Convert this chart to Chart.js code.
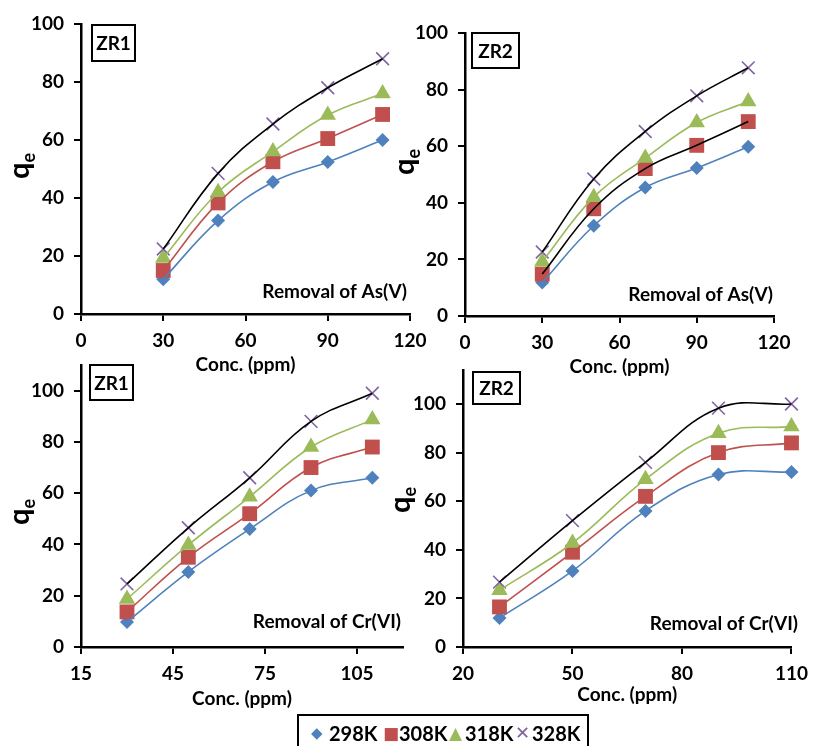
<!DOCTYPE html>
<html>
<head>
<meta charset="utf-8">
<script src="https://cdn.jsdelivr.net/npm/chart.js@4.4.1/dist/chart.umd.min.js"></script>
<style>
  body { margin: 0; background: #fff; }
  #wrap { position: relative; width: 816px; height: 746px; overflow: hidden; background: #fff; }
  #wrap canvas { position: absolute; left: 0; top: 0; }
  #legend {
    position: absolute; left: 297px; top: 714px; width: 292px; height: 44px;
    border: 2px solid #000; box-sizing: border-box;
    font: bold 20px Lato, sans-serif; color: #000;
  }
  #legend span { position: absolute; top: 5px; line-height: 24px; }
  #legend .m { font-family: "DejaVu Sans", sans-serif; }
</style>
</head>
<body>
<div id="wrap">
  <canvas id="asZr1" width="816" height="746"></canvas>
  <canvas id="asZr2" width="816" height="746"></canvas>
  <canvas id="crZr1" width="816" height="746"></canvas>
  <canvas id="crZr2" width="816" height="746"></canvas>
  <div id="legend">
    <span class="m" style="left:12px;color:#4F81BD;font-size:15px;">&#9670;</span><span style="left:30px;">298K</span>
    <span class="m" style="left:84px;color:#C0504D;font-size:17px;">&#9632;</span><span style="left:100px;">308K</span>
    <span class="m" style="left:150px;color:#9BBB59;font-size:17px;">&#9650;</span><span style="left:166px;">318K</span>
    <span class="m" style="left:216px;color:#8064A2;font-size:18px;">&#10005;</span><span style="left:233px;">328K</span>
  </div>
</div>
<script>
// temperatures (legend order)
const temps = ['298K', '308K', '318K', '328K'];

// initial concentration (ppm)
const concAs = [30, 50, 70, 90, 110];
const concCr = [30, 50, 70, 90, 110];

// q_e, As(V) on ZR1
const asZr1_298 = [12, 32.2, 45.5, 52.4, 60];
const asZr1_308 = [15, 38.3, 52.5, 60.5, 68.8];
const asZr1_318 = [19.3, 42, 56, 68.6, 76];
const asZr1_328 = [22.4, 48.5, 65.5, 78, 88];

// q_e, As(V) on ZR2
const asZr2_298 = [11.8, 31.9, 45.4, 52.3, 59.8];
const asZr2_308 = [14.8, 37.9, 52.1, 60.3, 68.7];
const asZr2_318 = [19.2, 42, 55.8, 68.4, 75.8];
const asZr2_328 = [22.6, 48.4, 65.2, 77.8, 87.7];

// q_e, Cr(VI) on ZR1
const crZr1_298 = [9.8, 29.3, 46, 61, 66];
const crZr1_308 = [13.7, 35, 52, 70, 78];
const crZr1_318 = [18.7, 39.8, 58.6, 78, 88.7];
const crZr1_328 = [24.6, 46.5, 66, 88, 99];

// q_e, Cr(VI) on ZR2
const crZr2_298 = [11.9, 31.3, 56, 71, 72];
const crZr2_308 = [16.5, 39, 62, 80, 84];
const crZr2_318 = [23.4, 42.8, 69, 88, 90.7];
const crZr2_328 = [26.7, 52, 76, 98.3, 100];

// tick labels
const asXTicks = [0, 30, 60, 90, 120];
const crZr1XTicks = [15, 45, 75, 105];
const crZr2XTicks = [20, 50, 80, 110];
const qeTicks = [0, 20, 40, 60, 80, 100];

const FONT = 'Lato, sans-serif';
const markerColors = ['#4F81BD', '#C0504D', '#9BBB59', '#8064A2'];
const markerStyles = [
  { pointStyle: 'rectRot', radius: 7, border: 0 },
  { pointStyle: 'rect', radius: 10.5, border: 0 },
  { pointStyle: 'triangle', radius: 9.5, border: 0 },
  { pointStyle: 'crossRot', radius: 9, border: 1.6 }
];

// labels drawn inside each panel: sample tag, removal note and the q_e axis title
const panelText = {
  id: 'panelText',
  afterDraw(chart, args, o) {
    const ctx = chart.ctx;
    ctx.save();
    const [bx, by, bw, bh] = o.tagBox;
    ctx.fillStyle = '#fff';
    ctx.fillRect(bx, by, bw, bh);
    ctx.lineWidth = 2;
    ctx.strokeStyle = '#000';
    ctx.strokeRect(bx, by, bw, bh);
    ctx.fillStyle = '#000';
    ctx.font = 'bold 19px ' + FONT;
    ctx.textAlign = 'center';
    ctx.textBaseline = 'middle';
    ctx.fillText(o.tag, bx + bw / 2, by + bh / 2 + 1);

    ctx.textAlign = 'right';
    ctx.fillText(o.note, o.noteX, o.noteY);

    ctx.translate(o.qe[0], o.qe[1]);
    ctx.rotate(-Math.PI / 2);
    ctx.textAlign = 'left';
    ctx.textBaseline = 'alphabetic';
    ctx.font = 'bold 29px ' + FONT;
    const qw = ctx.measureText('q').width;
    ctx.font = 'bold 18px ' + FONT;
    const ew = ctx.measureText('e').width;
    const x0 = -(qw + ew) / 2;
    ctx.font = 'bold 29px ' + FONT;
    ctx.fillText('q', x0, 4);
    ctx.font = 'bold 18px ' + FONT;
    ctx.fillText('e', x0 + qw, 10);
    ctx.restore();
  }
};

function makePanel(id, p) {
  const yW = 60;
  const xH = p.titleY - p.area.bottom + 11;
  const lines = p.series.map((s, i) => ({
    label: temps[i],
    data: p.x.map((x, j) => ({ x, y: s[j] })),
    showLine: true,
    borderColor: p.lineColors[i],
    borderWidth: 1.6,
    tension: 0.4,
    pointRadius: 0,
    clip: false
  })).reverse();
  const marks = p.series.map((s, i) => ({
    label: temps[i],
    data: p.x.map((x, j) => ({ x, y: s[j] })),
    showLine: false,
    pointStyle: markerStyles[i].pointStyle,
    pointRadius: markerStyles[i].radius,
    pointBorderWidth: markerStyles[i].border,
    pointBackgroundColor: markerColors[i],
    pointBorderColor: markerColors[i],
    clip: false
  })).reverse();

  const tickFont = { family: FONT, size: 19, weight: 'bold' };
  new Chart(document.getElementById(id), {
    type: 'scatter',
    data: { datasets: lines.concat(marks) },
    options: {
      responsive: false,
      animation: false,
      events: [],
      layout: {
        padding: {
          left: p.area.left - yW,
          right: 816 - p.area.right,
          top: p.area.top,
          bottom: 746 - p.area.bottom - xH
        }
      },
      plugins: {
        legend: { display: false },
        tooltip: { enabled: false },
        panelText: p.text
      },
      scales: {
        x: {
          type: 'linear',
          min: p.xMin,
          max: p.xMax,
          afterBuildTicks: s => { s.ticks = p.xTicks.map(v => ({ value: v })); },
          afterFit: s => { s.height = xH; },
          border: { color: '#000', width: 2.5 },
          grid: { drawOnChartArea: false, color: '#000', lineWidth: 2, tickLength: 7 },
          ticks: { font: tickFont, color: '#000', padding: 8, maxRotation: 0, autoSkip: false, callback: v => v },
          title: {
            display: true, text: 'Conc. (ppm)', color: '#000', padding: 0,
            font: { family: FONT, size: 19, weight: 'bold', lineHeight: 1.2 }
          }
        },
        y: {
          min: 0,
          max: p.yMax,
          afterBuildTicks: s => { s.ticks = qeTicks.map(v => ({ value: v })); },
          afterFit: s => { s.width = yW; },
          border: { color: '#000', width: 2.5 },
          grid: { drawOnChartArea: false, color: '#000', lineWidth: 2, tickLength: 7 },
          ticks: { font: tickFont, color: '#000', padding: 10, callback: v => v }
        }
      }
    },
    plugins: [panelText]
  });
}

const colorLines = ['#4F81BD', '#C0504D', '#9BBB59', '#000'];

makePanel('asZr1', {
  series: [asZr1_298, asZr1_308, asZr1_318, asZr1_328],
  x: concAs, xMin: 0, xMax: 120, xTicks: asXTicks, yMax: 100,
  area: { left: 81, right: 410, top: 24, bottom: 314 }, titleY: 365,
  lineColors: colorLines,
  text: { tag: 'ZR1', tagBox: [92, 25, 43, 36], note: 'Removal of As(V)', noteX: 407, noteY: 292, qe: [25, 166] }
});

makePanel('asZr2', {
  series: [asZr2_298, asZr2_308, asZr2_318, asZr2_328],
  x: concAs, xMin: 0, xMax: 120, xTicks: asXTicks, yMax: 100,
  area: { left: 465, right: 774, top: 33, bottom: 316 }, titleY: 367,
  lineColors: ['#4F81BD', '#000', '#9BBB59', '#000'],
  text: { tag: 'ZR2', tagBox: [472, 33, 47, 35], note: 'Removal of As(V)', noteX: 773, noteY: 295, qe: [410, 162] }
});

makePanel('crZr1', {
  series: [crZr1_298, crZr1_308, crZr1_318, crZr1_328],
  x: concCr, xMin: 15, xMax: 120, xTicks: crZr1XTicks, yMax: 110,
  area: { left: 81, right: 403, top: 365, bottom: 647 }, titleY: 699,
  lineColors: colorLines,
  text: { tag: 'ZR1', tagBox: [90, 365, 43, 35], note: 'Removal of Cr(VI)', noteX: 401, noteY: 622, qe: [25, 512] }
});

makePanel('crZr2', {
  series: [crZr2_298, crZr2_308, crZr2_318, crZr2_328],
  x: concCr, xMin: 20, xMax: 110, xTicks: crZr2XTicks, yMax: 114,
  area: { left: 463, right: 798, top: 370, bottom: 647 }, titleY: 695,
  lineColors: colorLines,
  text: { tag: 'ZR2', tagBox: [473, 372, 47, 32], note: 'Removal of Cr(VI)', noteX: 798, noteY: 624, qe: [406, 500] }
});
</script>
</body>
</html>
